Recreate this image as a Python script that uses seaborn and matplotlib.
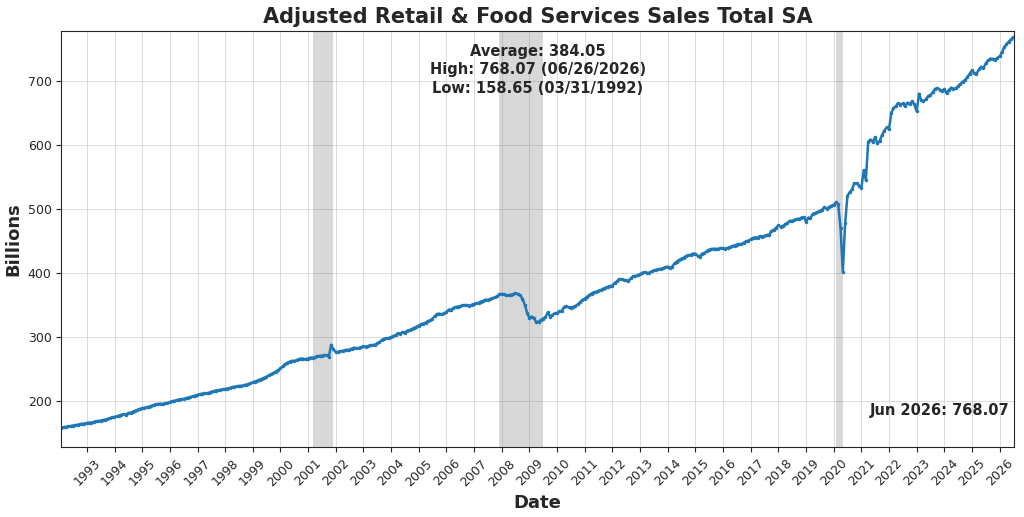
import numpy as np
import pandas as pd
import matplotlib
matplotlib.use("Agg")
import matplotlib.pyplot as plt
import matplotlib.dates as mdates
import seaborn as sns

# monthly sales, billions, Jan 1992 .. Jun 2026 (one row per year)
sales = [
    158.65, 159.2, 159.8, 160.5, 161.0, 161.8, 162.5, 163.0, 163.8, 164.5, 165.0, 165.8,  # 1992
    166.5, 166.0, 167.5, 168.2, 169.0, 169.5, 170.3, 171.0, 172.2, 173.5, 174.5, 175.3,  # 1993
    176.0, 177.2, 178.8, 179.5, 179.0, 181.0, 182.0, 183.5, 185.0, 186.5, 187.8, 189.0,  # 1994
    189.5, 190.5, 191.0, 192.5, 194.0, 195.0, 195.5, 196.0, 195.5, 196.5, 197.0, 198.5,  # 1995
    199.5, 200.5, 201.5, 202.5, 203.0, 203.5, 204.5, 205.5, 206.5, 207.5, 208.5, 210.0,  # 1996
    210.5, 211.5, 212.5, 212.0, 213.0, 214.5, 215.5, 216.5, 217.0, 217.5, 218.5, 219.0,  # 1997
    219.5, 220.5, 221.5, 222.5, 223.0, 223.5, 224.0, 224.5, 225.5, 226.5, 227.5, 229.5,  # 1998
    230.5, 232.0, 233.5, 235.0, 236.5, 238.0, 240.0, 242.0, 244.0, 246.0, 248.5, 251.0,  # 1999
    254.5, 257.5, 260.0, 261.5, 263.0, 262.5, 264.0, 265.5, 266.5, 266.0, 265.5, 266.5,  # 2000
    268.0, 267.5, 268.5, 270.0, 270.5, 271.0, 271.5, 272.0, 269.0, 288.0, 281.0, 276.5,  # 2001
    277.0, 278.0, 278.5, 279.5, 280.0, 280.5, 282.0, 283.5, 282.5, 283.0, 284.0, 285.5,  # 2002
    285.0, 286.0, 287.0, 287.5, 288.0, 290.0, 292.0, 295.5, 297.5, 298.0, 298.5, 300.0,  # 2003
    301.5, 303.0, 306.0, 305.5, 308.0, 307.0, 310.0, 311.0, 312.5, 314.5, 316.0, 318.0,  # 2004
    320.0, 321.0, 322.5, 325.0, 326.0, 328.5, 333.0, 336.0, 336.5, 335.5, 337.0, 339.0,  # 2005
    343.0, 342.5, 345.0, 347.0, 347.5, 348.0, 349.5, 350.0, 349.5, 349.0, 350.5, 352.0,  # 2006
    352.5, 353.5, 355.5, 356.5, 358.5, 358.0, 359.5, 360.5, 362.0, 363.5, 366.5, 367.5,  # 2007
    366.5, 365.0, 365.5, 366.0, 367.0, 368.5, 367.5, 365.0, 360.0, 350.5, 338.0, 330.0,  # 2008
    332.0, 329.5, 323.5, 324.0, 326.5, 329.0, 331.0, 338.5, 332.0, 334.5, 337.0, 337.5,  # 2009
    340.0, 340.5, 346.5, 348.5, 346.5, 346.0, 347.0, 348.5, 351.0, 354.5, 357.5, 360.0,  # 2010
    363.0, 365.5, 368.0, 370.0, 370.5, 372.5, 373.5, 375.5, 377.0, 378.5, 379.5, 380.5,  # 2011
    384.5, 387.0, 390.5, 390.0, 389.5, 388.5, 388.0, 391.5, 395.0, 395.5, 396.5, 398.0,  # 2012
    400.5, 401.5, 400.0, 400.5, 402.5, 404.0, 405.0, 406.0, 406.5, 407.5, 409.0, 410.0,  # 2013
    407.5, 410.0, 415.0, 418.0, 420.5, 422.5, 424.0, 426.5, 427.5, 428.5, 430.5, 430.0,  # 2014
    427.0, 425.5, 430.5, 431.0, 434.5, 436.5, 437.5, 438.0, 437.5, 438.0, 439.0, 438.5,  # 2015
    438.0, 439.5, 440.0, 442.0, 443.0, 444.5, 445.5, 445.0, 447.5, 449.5, 450.5, 452.5,  # 2016
    455.0, 455.5, 455.5, 457.5, 457.0, 458.0, 459.5, 459.5, 465.5, 467.5, 470.5, 474.5,  # 2017
    472.5, 473.5, 476.0, 478.5, 481.5, 481.5, 483.0, 484.5, 484.5, 486.5, 487.5, 480.0,  # 2018
    486.5, 486.0, 492.5, 494.0, 495.0, 497.0, 499.0, 502.5, 500.5, 503.0, 505.0, 506.5,  # 2019
    510.5, 507.5, 470.0, 402.0, 478.5, 520.5, 526.5, 530.5, 540.5, 540.0, 536.5, 533.0,  # 2020
    560.5, 545.0, 605.0, 608.5, 605.0, 612.0, 602.5, 606.5, 615.5, 622.5, 627.5, 625.0,  # 2021
    650.5, 657.5, 660.5, 665.5, 663.0, 665.0, 660.5, 666.0, 664.0, 668.0, 663.5, 652.5,  # 2022
    680.0, 670.5, 668.0, 671.5, 676.0, 678.0, 682.0, 687.5, 689.0, 686.5, 684.5, 687.0,  # 2023
    680.5, 686.0, 689.5, 688.0, 688.5, 692.0, 695.5, 699.0, 701.5, 706.0, 711.5, 716.5,  # 2024
    712.0, 711.0, 718.0, 722.0, 720.0, 727.5, 732.0, 735.0, 734.5, 733.5, 736.0, 738.5,  # 2025
    745.0, 752.5, 757.0, 761.5, 765.0, 768.07,                                          # 2026
]
recessions = [("2001-03-01", "2001-11-30"), ("2007-12-01", "2009-06-30"), ("2020-02-01", "2020-04-30")]

dates = pd.date_range("1992-01-31", periods=len(sales), freq="ME")
df = pd.DataFrame({"Date": dates, "Billions": sales})

sns.set_style("ticks")
fig, ax = plt.subplots(figsize=(10.24, 5.17), dpi=100)
for s, e in recessions:
    ax.axvspan(pd.Timestamp(s), pd.Timestamp(e), color="grey", alpha=0.3, lw=0)
sns.lineplot(data=df, x="Date", y="Billions", ax=ax, color="#1f77b4", lw=1.8,
             marker="o", markersize=2.5, markeredgewidth=0)
ax.grid(True, color="#cccccc", lw=0.6, alpha=0.8)
ax.set_xlim(dates[0], dates[-1] + pd.Timedelta(days=5))
ax.set_ylim(128, 778)
ax.xaxis.set_major_locator(mdates.YearLocator(1))
ax.xaxis.set_major_formatter(mdates.DateFormatter("%Y"))
ax.set_xticks([pd.Timestamp(f"{y}-01-01") for y in range(1993, 2027)])
plt.setp(ax.get_xticklabels(), rotation=45, fontsize=9)
ax.tick_params(axis="y", labelsize=9)
ax.set_title("Adjusted Retail & Food Services Sales Total SA", fontsize=15, fontweight="bold")
ax.set_xlabel("Date", fontsize=13, fontweight="bold")
ax.set_ylabel("Billions", fontsize=13, fontweight="bold")
avg = np.mean(sales)
ax.text(0.5, 0.97, f"Average: {avg:.2f}\nHigh: 768.07 (06/26/2026)\nLow: 158.65 (03/31/1992)",
        transform=ax.transAxes, ha="center", va="top", fontsize=10.5, fontweight="bold", linespacing=1.3)
ax.text(0.995, 0.07, "Jun 2026: 768.07", transform=ax.transAxes, ha="right", va="bottom",
        fontsize=10.5, fontweight="bold")
for sp in ax.spines.values():
    sp.set_visible(True)
fig.subplots_adjust(left=0.06, right=0.99, top=0.94, bottom=0.135)
fig.savefig("out.png", dpi=100)
